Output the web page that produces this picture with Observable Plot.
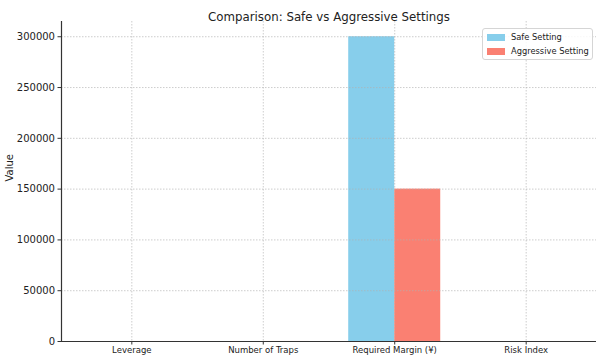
<!DOCTYPE html>
<html><head><meta charset="utf-8">
<script src="https://cdn.jsdelivr.net/npm/d3@7"></script>
<script src="https://cdn.jsdelivr.net/npm/@observablehq/plot@0.6"></script>
<style>
body{margin:0;background:#fff;font-family:"DejaVu Sans",sans-serif}
#wrap{position:relative;width:600px;height:358px;overflow:hidden}
.legend{position:absolute;left:482px;top:28px;width:109px;height:30px;border:1px solid #d5d5d5;border-radius:3px;background:rgba(255,255,255,0.85);font-size:8.3px;color:#222}
.legend .row{position:absolute;left:4px;display:flex;align-items:center}
.legend .sw{width:18px;height:7px;margin-right:6px}
</style></head><body><div id="wrap"></div>
<script>
const categories = ["Leverage", "Number of Traps", "Required Margin (¥)", "Risk Index"];
const series = ["Safe Setting", "Aggressive Setting"];
const safeValues = [5, 10, 300000, 2];
const aggressiveValues = [20, 30, 150000, 8];
const yTicks = [0, 50000, 100000, 150000, 200000, 250000, 300000];
const colors = ["#87CEEB", "#FA8072"];
const title = "Comparison: Safe vs Aggressive Settings";
const yLabel = "Value";

const barWidth = 0.35;
const rows = [];
categories.forEach((c, i) => {
  rows.push({cat: c, series: series[0], value: safeValues[i], x1: i - barWidth, x2: i});
  rows.push({cat: c, series: series[1], value: aggressiveValues[i], x1: i, x2: i + barWidth});
});
const idx = categories.map((c, i) => i);
const pad = (categories.length - 1 + 2 * barWidth) * 0.05;
const xDomain = [-barWidth - pad, categories.length - 1 + barWidth + pad];
const yMax = d3.max([...safeValues, ...aggressiveValues]) * 1.05;

const grid = {stroke: "#b0b0b0", strokeWidth: 0.8, strokeDasharray: "1.5,1.5", strokeOpacity: 0.8};

const chart = Plot.plot({
  width: 600,
  height: 358,
  marginTop: 21,
  marginBottom: 17,
  marginLeft: 61,
  marginRight: 4,
  style: {fontFamily: "DejaVu Sans, sans-serif", background: "#fff", color: "#222"},
  x: {domain: xDomain, ticks: idx, tickFormat: i => categories[i]},
  y: {domain: [0, yMax], ticks: yTicks, tickFormat: d => String(d)},
  color: {domain: series, range: colors},
  marks: [
    Plot.rectY(rows, {x1: "x1", x2: "x2", y1: 0, y2: "value", fill: "series"}),
    Plot.ruleX(idx, {...grid}),
    Plot.ruleY(yTicks.slice(1), {...grid}),
    Plot.axisY({ticks: yTicks, tickFormat: d => String(d), tickSize: 3.5, tickPadding: 3, fontSize: 10, label: null, stroke: "#333"}),
    Plot.axisX({ticks: idx, tickFormat: i => categories[i], tickSize: 3.5, tickPadding: 2, fontSize: 8.5, label: null, stroke: "#333"}),
    Plot.ruleX([xDomain[0]], {stroke: "#333", strokeWidth: 1.2}),
    Plot.ruleY([0], {stroke: "#333", strokeWidth: 1.2}),
    Plot.text([title], {frameAnchor: "top", dy: -9, fontSize: 11.8, fill: "#222"}),
    Plot.text([yLabel], {frameAnchor: "left", dx: -52, rotate: -90, fontSize: 10, fill: "#222"})
  ]
});
const wrap = document.getElementById("wrap");
wrap.appendChild(chart);

const legend = document.createElement("div");
legend.className = "legend";
series.forEach((s, i) => {
  const row = document.createElement("div");
  row.className = "row";
  row.style.top = (3 + i * 14) + "px";
  row.innerHTML = `<span class="sw" style="background:${colors[i]}"></span><span>${s}</span>`;
  legend.appendChild(row);
});
wrap.appendChild(legend);
</script></body></html>
